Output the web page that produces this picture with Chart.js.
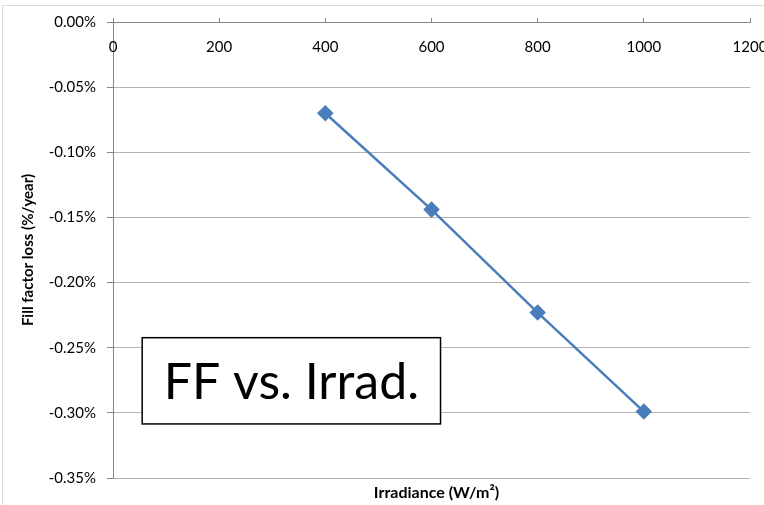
<!DOCTYPE html>
<html>
<head>
<meta charset="utf-8">
<script src="https://cdn.jsdelivr.net/npm/chart.js@4"></script>
<style>
  html, body { margin: 0; padding: 0; background: #fff; }
  #wrap { width: 764px; height: 505px; position: relative; }
</style>
</head>
<body>
<div id="wrap"><canvas id="ffChart"></canvas></div>
<script>
// Data
const irradiance = [400, 600, 800, 1000];
const ffLoss = [-0.070, -0.144, -0.223, -0.299];   // %/year
const xTickValues = [0, 200, 400, 600, 800, 1000, 1200];
const yTickValues = [0, -0.05, -0.10, -0.15, -0.20, -0.25, -0.30, -0.35];

const xTitle = 'Irradiance (W/m\u00b2)';
const yTitle = 'Fill factor loss (%/year)';
const boxText = 'FF vs. Irrad.';

const FONT = 'Lato, "Open Sans", sans-serif';
const lineColor = '#4a7ebb';

// Text box placed in data units so it follows the scales
const box = { x0: 55, x1: 617, y0: -0.2423, y1: -0.3085 };

const overlay = {
    id: 'overlay',
    beforeDraw(chart) {
        const ctx = chart.ctx;
        ctx.save();
        ctx.strokeStyle = '#d9d9d9';
        ctx.lineWidth = 1;
        ctx.strokeRect(2.5, 5.5, 900, 700);
        ctx.restore();
    },
    afterDraw(chart) {
        const ctx = chart.ctx;
        const xs = chart.scales.x;
        const ys = chart.scales.y;
        const a = chart.chartArea;
        ctx.save();

        // x tick labels sit just under the top axis
        ctx.fillStyle = '#000';
        ctx.font = '15px ' + FONT;
        ctx.textAlign = 'center';
        ctx.textBaseline = 'middle';
        xTickValues.forEach(v => {
            ctx.fillText(String(v), xs.getPixelForValue(v), a.top + 25);
        });

        // axis titles
        ctx.font = 'bold 16px ' + FONT;
        ctx.fillText(xTitle, (a.left + a.right) / 2 + 5, a.bottom + 15);
        ctx.font = 'bold 15px ' + FONT;
        ctx.save();
        ctx.translate(28, (a.top + a.bottom) / 2);
        ctx.rotate(-Math.PI / 2);
        ctx.fillText(yTitle, 0, 0);
        ctx.restore();

        // text box
        const bx0 = xs.getPixelForValue(box.x0), bx1 = xs.getPixelForValue(box.x1);
        const by0 = ys.getPixelForValue(box.y0), by1 = ys.getPixelForValue(box.y1);
        ctx.fillStyle = '#fff';
        ctx.fillRect(bx0, by0, bx1 - bx0, by1 - by0);
        ctx.strokeStyle = '#000';
        ctx.lineWidth = 1.5;
        ctx.strokeRect(bx0, by0, bx1 - bx0, by1 - by0);
        ctx.fillStyle = '#000';
        ctx.font = '50px ' + FONT;
        ctx.fillText(boxText, (bx0 + bx1) / 2, (by0 + by1) / 2 + 2);

        ctx.restore();
    }
};

new Chart(document.getElementById('ffChart'), {
    type: 'scatter',
    data: {
        datasets: [{
            data: irradiance.map((x, i) => ({ x: x, y: ffLoss[i] })),
            showLine: true,
            borderColor: lineColor,
            backgroundColor: lineColor,
            borderWidth: 2.5,
            pointStyle: 'rectRot',
            pointRadius: 6.5,
            pointHoverRadius: 6.5
        }]
    },
    options: {
        responsive: true,
        maintainAspectRatio: false,
        animation: false,
        layout: { padding: { left: 0, top: 0, right: 14, bottom: 27 } },
        plugins: { legend: { display: false }, tooltip: { enabled: false } },
        scales: {
            x: {
                type: 'linear',
                position: 'top',
                min: 0,
                max: 1200,
                afterBuildTicks: s => { s.ticks = xTickValues.map(v => ({ value: v })); },
                afterFit: s => { s.height = 22; },
                ticks: { display: false },
                grid: { drawOnChartArea: false, drawTicks: true, tickLength: 4, color: '#868686' },
                border: { color: '#868686', width: 1 }
            },
            y: {
                type: 'linear',
                min: -0.35,
                max: 0,
                afterBuildTicks: s => { s.ticks = yTickValues.map(v => ({ value: v })); },
                afterFit: s => { s.width = 113; },
                ticks: {
                    color: '#000',
                    font: { family: FONT, size: 15 },
                    padding: 11,
                    callback: v => v.toFixed(2) + '%'
                },
                grid: { color: '#b3b3b3', tickLength: 6, tickColor: '#868686' },
                border: { color: '#868686', width: 1 }
            }
        }
    },
    plugins: [overlay]
});
</script>
</body>
</html>
